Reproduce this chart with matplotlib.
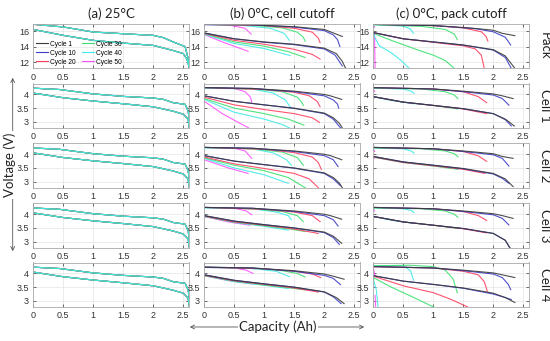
import matplotlib.pyplot as plt
from matplotlib.patches import FancyArrowPatch

W, H = 550, 341

CYCLES = ["Cycle 1", "Cycle 10", "Cycle 20", "Cycle 30", "Cycle 40", "Cycle 50"]
COLORS = ["#3a3a3a", "#3c3cc8", "#ff4060", "#3ce070", "#40e8e8", "#ff50ff"]
COL_TITLES = ["(a) 25°C", "(b) 0°C, cell cutoff", "(c) 0°C, pack cutoff"]
ROW_NAMES = ["Pack", "Cell 1", "Cell 2", "Cell 3", "Cell 4"]
XTICKS = [0, 0.5, 1, 1.5, 2, 2.5]
PACK_YTICKS = [12, 14, 16]
CELL_YTICKS = [3, 3.5, 4]

# (a) 25°C - all cycles lie on top of each other
A_PACK_UP = [(0, 16.86), (0.5, 16.52), (1, 15.87), (1.5, 15.65), (2, 15.44), (2.17, 15.14),
             (2.33, 14.6), (2.53, 14.0), (2.58, 12.5), (2.6, 11.5)]
A_PACK_LO = [(0, 16.2), (0.5, 15.44), (1, 14.8), (1.5, 14.45), (2, 14.15), (2.33, 13.5),
             (2.5, 13.1), (2.56, 12.4), (2.6, 11.3)]
A_CELL_UP = [(0, 4.23), (0.44, 4.18), (1, 4.02), (1.5, 3.93), (2, 3.87), (2.17, 3.82),
             (2.33, 3.7), (2.53, 3.64), (2.58, 3.4), (2.6, 3.1)]
A_CELL_LO = [(0, 4.05), (0.5, 3.88), (1, 3.76), (1.5, 3.66), (2, 3.55), (2.33, 3.39),
             (2.5, 3.28), (2.58, 3.1), (2.6, 2.8)]

# (b) 0°C, cell cutoff  (one list per cycle: 1, 10, 20, 30, 40, 50)
B_PACK_UP = [
    [(0, 16.85), (0.8, 16.8), (1.5, 16.55), (2.0, 16.2), (2.15, 15.75), (2.3, 15.3)],
    [(0, 16.85), (0.8, 16.8), (1.5, 16.5), (2.0, 16.05), (2.15, 15.5), (2.22, 14.9), (2.26, 14.0)],
    [(0, 16.85), (1.0, 16.7), (1.5, 16.35), (1.8, 15.85), (1.9, 15.1), (1.93, 14.5)],
    [(0, 16.85), (0.8, 16.75), (1.3, 16.4), (1.55, 15.85), (1.65, 15.2), (1.68, 14.7)],
    [(0, 16.8), (0.6, 16.75), (1.1, 16.35), (1.33, 15.7), (1.42, 14.8)],
    [(0, 16.8), (0.45, 16.7), (0.68, 16.35), (0.78, 15.6)],
]
B_PACK_LO = [
    [(0, 15.75), (0.5, 15.0), (1, 14.6), (1.5, 14.3), (2.0, 13.8), (2.2, 13.1), (2.3, 12.1), (2.35, 11.3)],
    [(0, 15.75), (0.5, 15.0), (1, 14.55), (1.5, 14.25), (2.0, 13.7), (2.18, 12.9), (2.3, 11.5)],
    [(0, 15.7), (0.5, 14.8), (1, 14.3), (1.5, 13.65), (1.8, 13.0), (1.93, 12.4)],
    [(0, 15.65), (0.5, 14.6), (1, 14.05), (1.4, 13.35), (1.68, 12.6)],
    [(0, 15.6), (0.5, 14.4), (1, 13.75), (1.43, 12.85)],
    [(0, 15.55), (0.3, 14.6), (0.73, 13.4)],
]
B_CELL1_UP = [
    [(0, 4.25), (0.8, 4.22), (1.5, 4.12), (2.0, 4.0), (2.1, 3.95), (2.29, 3.82)],
    [(0, 4.25), (0.8, 4.22), (1.5, 4.1), (2.0, 3.95), (2.15, 3.8), (2.22, 3.65), (2.24, 3.5)],
    [(0, 4.25), (1, 4.18), (1.5, 4.08), (1.75, 3.95), (1.88, 3.75), (1.93, 3.55)],
    [(0, 4.25), (0.8, 4.2), (1.3, 4.1), (1.55, 3.9), (1.63, 3.7), (1.65, 3.6)],
    [(0, 4.23), (0.8, 4.2), (1.15, 4.05), (1.35, 3.8), (1.43, 3.55)],
    [(0, 4.25), (0.5, 4.22), (0.68, 4.1), (0.77, 3.9), (0.79, 3.72)],
]
B_CELL1_LO = [
    [(0, 3.95), (0.5, 3.75), (1, 3.62), (1.5, 3.5), (2, 3.32), (2.15, 3.15), (2.25, 2.95), (2.3, 2.78)],
    [(0, 3.95), (0.5, 3.75), (1, 3.62), (1.5, 3.49), (2, 3.3), (2.15, 3.1), (2.27, 2.78)],
    [(0, 3.9), (0.5, 3.62), (1, 3.45), (1.5, 3.3), (1.8, 3.15), (1.92, 2.98)],
    [(0, 3.85), (0.5, 3.5), (1, 3.3), (1.4, 3.1), (1.66, 2.88)],
    [(0, 3.82), (0.5, 3.35), (1, 3.1), (1.3, 2.9), (1.42, 2.78)],
    [(0, 3.75), (0.3, 3.3), (0.55, 3.0), (0.74, 2.78)],
]
B_CELL2_UP = [
    [(0, 4.25), (0.8, 4.22), (1.5, 4.12), (2.0, 4.0), (2.1, 3.95), (2.29, 3.8)],
    [(0, 4.25), (0.8, 4.22), (1.5, 4.1), (2.0, 3.95), (2.15, 3.8), (2.23, 3.55)],
    [(0, 4.25), (1, 4.18), (1.5, 4.06), (1.8, 3.9), (1.9, 3.7), (1.95, 3.45)],
    [(0, 4.25), (0.8, 4.2), (1.3, 4.08), (1.55, 3.88), (1.65, 3.6)],
    [(0, 4.23), (0.8, 4.2), (1.15, 4.05), (1.37, 3.8), (1.45, 3.6)],
    [(0, 4.25), (0.5, 4.22), (0.68, 4.12), (0.79, 3.85)],
]
B_CELL2_LO = [
    [(0, 3.95), (0.5, 3.75), (1, 3.62), (1.5, 3.5), (2, 3.32), (2.15, 3.15), (2.25, 2.95), (2.3, 2.78)],
    [(0, 3.95), (0.5, 3.75), (1, 3.62), (1.5, 3.49), (2, 3.3), (2.15, 3.1), (2.27, 2.85)],
    [(0, 3.9), (0.5, 3.65), (1, 3.48), (1.5, 3.3), (1.75, 3.1), (1.9, 2.78)],
    [(0, 3.87), (0.5, 3.6), (1, 3.4), (1.4, 3.15), (1.68, 2.78)],
    [(0, 3.85), (0.5, 3.5), (1, 3.25), (1.4, 2.94)],
    [(0, 3.8), (0.4, 3.5), (0.73, 3.3)],
]
B_CELL3_UP = [
    [(0, 4.25), (0.8, 4.22), (1.5, 4.12), (2.0, 4.0), (2.1, 3.95), (2.29, 3.82)],
    [(0, 4.25), (0.8, 4.22), (1.5, 4.1), (2.0, 3.95), (2.15, 3.8), (2.23, 3.57)],
    [(0, 4.25), (1, 4.18), (1.5, 4.08), (1.8, 3.95), (1.93, 3.73)],
    [(0, 4.25), (0.8, 4.2), (1.3, 4.1), (1.55, 3.95), (1.65, 3.73)],
    [(0, 4.23), (0.8, 4.2), (1.2, 4.08), (1.4, 3.95), (1.45, 3.8)],
    [(0, 4.25), (0.5, 4.22), (0.7, 4.12), (0.79, 3.98)],
]
B_CELL3_LO = [
    [(0, 3.95), (0.5, 3.75), (1, 3.62), (1.5, 3.5), (2, 3.35), (2.15, 3.2), (2.29, 2.94)],
    [(0, 3.95), (0.5, 3.75), (1, 3.62), (1.5, 3.5), (2, 3.33), (2.15, 3.15), (2.25, 2.9)],
    [(0, 3.93), (0.5, 3.72), (1, 3.6), (1.5, 3.46), (1.9, 3.3)],
    [(0, 3.92), (0.5, 3.72), (1, 3.58), (1.4, 3.47), (1.68, 3.37)],
    [(0, 3.92), (0.5, 3.7), (1, 3.56), (1.4, 3.42)],
    [(0, 3.92), (0.4, 3.72), (0.76, 3.6)],
]
B_CELL4_UP = [
    [(0, 4.23), (0.8, 4.2), (1.5, 4.1), (2.0, 3.98), (2.15, 3.9), (2.33, 3.79)],
    [(0, 4.23), (0.8, 4.2), (1.5, 4.08), (2.0, 3.93), (2.15, 3.82), (2.27, 3.59)],
    [(0, 4.23), (1, 4.17), (1.5, 4.08), (1.8, 3.98), (1.94, 3.85)],
    [(0, 4.23), (0.8, 4.2), (1.3, 4.1), (1.55, 4.0), (1.68, 3.87)],
    [(0, 4.22), (0.8, 4.18), (1.2, 4.08), (1.42, 3.88)],
    [(0, 4.22), (0.5, 4.2), (0.7, 4.12), (0.81, 4.0)],
]
B_CELL4_LO = [
    [(0, 3.95), (0.5, 3.75), (1, 3.62), (1.5, 3.5), (2, 3.33), (2.2, 3.12), (2.33, 2.9)],
    [(0, 3.95), (0.5, 3.75), (1, 3.62), (1.5, 3.5), (2, 3.32), (2.15, 3.15), (2.28, 2.9)],
    [(0, 3.93), (0.5, 3.73), (1, 3.6), (1.5, 3.47), (1.9, 3.32)],
    [(0, 3.92), (0.5, 3.72), (1, 3.58), (1.4, 3.48), (1.68, 3.4)],
    [(0, 3.92), (0.5, 3.7), (1, 3.57), (1.4, 3.45)],
    [(0, 3.92), (0.4, 3.74), (0.8, 3.62)],
]

# (c) 0°C, pack cutoff
C_PACK_UP = [
    [(0, 16.85), (1, 16.7), (1.6, 16.4), (2.0, 16.1), (2.15, 15.7), (2.36, 15.4)],
    [(0, 16.85), (1, 16.7), (1.7, 16.3), (2.0, 15.9), (2.2, 15.2), (2.29, 14.2)],
    [(0, 16.85), (1, 16.7), (1.5, 16.4), (1.8, 15.9), (1.88, 15.3), (1.91, 14.7)],
    [(0, 16.8), (0.8, 16.6), (1.2, 16.2), (1.35, 15.6), (1.4, 14.9)],
    [(0, 16.8), (0.5, 16.65), (0.62, 16.25), (0.67, 15.7)],
    [(0, 16.8), (0.02, 16.5)],
]
C_PACK_LO = [
    [(0, 15.8), (0.5, 15.0), (1, 14.6), (1.5, 14.2), (2, 13.6), (2.2, 12.8), (2.3, 11.8), (2.36, 11.2)],
    [(0, 15.8), (0.5, 15.0), (1, 14.6), (1.5, 14.2), (2, 13.55), (2.2, 12.6), (2.3, 11.2)],
    [(0, 15.8), (0.5, 15.0), (1, 14.55), (1.5, 14.1), (1.7, 13.7), (1.8, 12.9), (1.85, 11.2)],
    [(0, 15.7), (0.3, 14.8), (0.73, 13.6), (1.0, 12.9), (1.2, 12.2), (1.35, 11.2)],
    [(0, 15.6), (0.05, 14.8), (0.1, 14.1), (0.3, 13.2), (0.45, 12.3), (0.6, 11.2)],
    [(0.02, 15.8), (0.03, 11.2)],
]
C_CELL1_UP = [
    [(0, 4.25), (1, 4.2), (1.5, 4.12), (2.0, 4.02), (2.15, 3.95), (2.33, 3.85)],
    [(0, 4.25), (1, 4.2), (1.5, 4.1), (2.0, 3.98), (2.15, 3.85), (2.26, 3.61)],
    [(0, 4.25), (1, 4.2), (1.5, 4.1), (1.75, 3.92), (1.89, 3.7)],
    [(0, 4.23), (0.8, 4.2), (1.2, 4.1), (1.35, 3.98), (1.41, 3.85)],
    [(0, 4.23), (0.5, 4.2), (0.63, 4.12), (0.68, 4.04)],
    [(0, 4.22), (0.02, 4.1)],
]
C_CELL1_LO = [
    [(0, 3.92), (0.5, 3.72), (1, 3.6), (1.5, 3.48), (2, 3.3), (2.2, 3.1), (2.35, 2.85)],
    [(0, 3.92), (0.5, 3.72), (1, 3.6), (1.5, 3.48), (2, 3.3), (2.2, 3.08), (2.3, 2.85)],
    [(0, 3.92), (0.5, 3.72), (1, 3.6), (1.5, 3.47), (1.89, 3.3)],
    [(0, 3.92), (0.5, 3.72), (1, 3.6), (1.41, 3.47)],
    [(0, 3.92), (0.3, 3.78), (0.68, 3.66)],
    [(0, 3.92), (0.02, 3.88)],
]
C_CELL2_UP = [
    [(0, 4.25), (1, 4.2), (1.5, 4.12), (2.0, 4.02), (2.15, 3.92), (2.33, 3.85)],
    [(0, 4.25), (1, 4.2), (1.5, 4.1), (2.0, 3.98), (2.15, 3.85), (2.26, 3.57)],
    [(0, 4.25), (1, 4.2), (1.5, 4.1), (1.75, 3.94), (1.89, 3.74)],
    [(0, 4.23), (0.8, 4.2), (1.2, 4.12), (1.35, 4.02), (1.41, 3.91)],
    [(0, 4.23), (0.5, 4.2), (0.63, 4.12), (0.68, 4.04)],
    [(0, 4.22), (0.02, 4.1)],
]
C_CELL2_LO = [
    [(0, 3.92), (0.5, 3.72), (1, 3.6), (1.5, 3.48), (2, 3.3), (2.2, 3.1), (2.33, 2.82)],
    [(0, 3.92), (0.5, 3.72), (1, 3.6), (1.5, 3.47), (2, 3.28), (2.15, 3.12), (2.26, 2.94)],
    [(0, 3.9), (0.5, 3.7), (1, 3.58), (1.5, 3.45), (1.86, 3.3)],
    [(0, 3.9), (0.5, 3.7), (1, 3.57), (1.41, 3.45)],
    [(0, 3.9), (0.3, 3.78), (0.68, 3.66)],
    [(0, 3.9), (0.02, 3.86)],
]
C_CELL3_UP = [
    [(0, 4.25), (1, 4.2), (1.5, 4.12), (2.0, 4.02), (2.15, 3.95), (2.33, 3.85)],
    [(0, 4.25), (1, 4.2), (1.5, 4.1), (2.0, 3.98), (2.15, 3.85), (2.26, 3.61)],
    [(0, 4.25), (1, 4.2), (1.5, 4.1), (1.75, 3.95), (1.89, 3.77)],
    [(0, 4.23), (0.8, 4.2), (1.2, 4.12), (1.35, 4.0), (1.41, 3.89)],
    [(0, 4.23), (0.5, 4.2), (0.63, 4.14), (0.68, 4.06)],
    [(0, 4.22), (0.02, 4.12)],
]
C_CELL3_LO = [
    [(0, 3.92), (0.5, 3.72), (1, 3.6), (1.5, 3.48), (2, 3.3), (2.2, 3.05), (2.3, 2.7)],
    [(0, 3.92), (0.5, 3.72), (1, 3.6), (1.5, 3.48), (2, 3.3), (2.2, 3.05), (2.28, 2.75)],
    [(0, 3.92), (0.5, 3.72), (1, 3.6), (1.5, 3.47), (1.89, 3.32)],
    [(0, 3.92), (0.5, 3.72), (1, 3.6), (1.41, 3.48)],
    [(0, 3.92), (0.3, 3.78), (0.68, 3.67)],
    [(0, 3.92), (0.02, 3.88)],
]
C_CELL4_UP = [
    [(0, 4.25), (1, 4.2), (1.5, 4.12), (2.0, 4.02), (2.15, 3.95), (2.36, 3.85)],
    [(0, 4.25), (1, 4.2), (1.5, 4.1), (2.0, 3.98), (2.15, 3.85), (2.25, 3.6), (2.29, 3.41)],
    [(0, 4.25), (1, 4.2), (1.5, 4.08), (1.75, 3.95), (1.85, 3.7), (1.9, 3.35)],
    [(0, 4.28), (0.6, 4.3), (1.0, 4.25), (1.2, 4.12), (1.33, 3.8), (1.4, 3.3)],
    [(0, 4.27), (0.5, 4.28), (0.62, 4.1), (0.67, 3.76)],
    [(0, 4.22), (0.03, 3.9)],
]
C_CELL4_LO = [
    [(0, 3.92), (0.5, 3.72), (1, 3.6), (1.5, 3.47), (2, 3.28), (2.2, 3.12), (2.36, 2.94)],
    [(0, 3.92), (0.5, 3.72), (1, 3.6), (1.5, 3.46), (2, 3.25), (2.2, 3.12), (2.3, 3.05)],
    [(0, 3.9), (0.5, 3.55), (1, 3.3), (1.3, 3.05), (1.57, 2.78)],
    [(0, 3.85), (0.3, 3.5), (0.6, 3.2), (1.0, 2.78)],
    [(0, 3.8), (0.05, 3.4), (0.08, 2.78)],
    [(0.03, 3.2), (0.04, 2.78)],
]

PANELS = [
    [([A_PACK_UP] * 5, [A_PACK_LO] * 5), (B_PACK_UP, B_PACK_LO), (C_PACK_UP, C_PACK_LO)],
    [([A_CELL_UP] * 5, [A_CELL_LO] * 5), (B_CELL1_UP, B_CELL1_LO), (C_CELL1_UP, C_CELL1_LO)],
    [([A_CELL_UP] * 5, [A_CELL_LO] * 5), (B_CELL2_UP, B_CELL2_LO), (C_CELL2_UP, C_CELL2_LO)],
    [([A_CELL_UP] * 5, [A_CELL_LO] * 5), (B_CELL3_UP, B_CELL3_LO), (C_CELL3_UP, C_CELL3_LO)],
    [([A_CELL_UP] * 5, [A_CELL_LO] * 5), (B_CELL4_UP, B_CELL4_LO), (C_CELL4_UP, C_CELL4_LO)],
]

fig = plt.figure(figsize=(W / 100, H / 100), dpi=100)

col_left = [33.3, 204.3, 373.3]
row_top = [24, 83.5, 143.3, 203.3, 262.5]
ax_w, ax_h = 156, 44.4

for r in range(5):
    for c in range(3):
        ax = fig.add_axes([col_left[c] / W, 1 - (row_top[r] + ax_h) / H, ax_w / W, ax_h / H])
        ups, los = PANELS[r][c]
        n = len(ups)
        # at 25°C the cycles coincide, the later (cyan) one is the visible one;
        # at 0°C cycle 1 sits on top
        order = range(n) if c == 0 else reversed(range(n))
        for i in order:
            for curve in (ups[i], los[i]):
                xs = [p[0] for p in curve]
                ys = [p[1] for p in curve]
                ax.plot(xs, ys, color=COLORS[i], lw=0.8, alpha=0.9)
        ax.set_xlim(0, 2.6)
        if r == 0:
            ax.set_ylim(11.2, 16.9)
            ax.set_yticks(PACK_YTICKS)
        else:
            ax.set_ylim(2.78, 4.4)
            ax.set_yticks(CELL_YTICKS)
            ax.set_yticklabels(["3", "3.5", "4"])
        ax.set_xticks(XTICKS)
        ax.set_xticklabels(["0", "0.5", "1", "1.5", "2", "2.5"])
        ax.grid(True, color="#e4e4e4", lw=0.5)
        ax.set_axisbelow(True)
        ax.tick_params(labelsize=6.5, colors="#333333", length=2, width=0.5, direction="in",
                       pad=3, top=True, right=True)
        for lab in ax.get_xticklabels() + ax.get_yticklabels():
            lab.set_fontfamily("Liberation Sans")
        for s in ax.spines.values():
            s.set_color("#a8a8a8")
            s.set_linewidth(0.6)
        if r == 0:
            ax.set_title(COL_TITLES[c], fontsize=9.5, family="Lato", color="#222222", pad=4)
        if c == 2:
            ax.text(1.06, 0.5, ROW_NAMES[r], transform=ax.transAxes, rotation=-90,
                    ha="left", va="center", fontsize=9.5, family="Lato", color="#222222")
        if r == 0 and c == 0:
            handles = [plt.Line2D([], [], color=COLORS[i], lw=0.8) for i in range(6)]
            ax.legend(handles, CYCLES, loc="lower left", ncol=2, frameon=False,
                      handlelength=1.8, handletextpad=0.3, columnspacing=1.0,
                      labelspacing=0.3, borderpad=0.1, borderaxespad=0.3,
                      prop={"family": "Liberation Sans", "size": 4.8})

# axis captions with double arrows
fig.add_artist(FancyArrowPatch((12.7 / W, 1 - 254 / H), (12.7 / W, 1 - 75 / H),
                               transform=fig.transFigure, arrowstyle="<->", mutation_scale=7,
                               color="#555555", lw=0.6))
fig.text(10 / W, 1 - 165 / H, "Voltage (V)", rotation=90, ha="center", va="center",
         fontsize=9.5, family="Lato", color="#222222",
         bbox=dict(facecolor="white", edgecolor="none", pad=1))
fig.add_artist(FancyArrowPatch((187 / W, 1 - 327 / H), (367 / W, 1 - 327 / H),
                               transform=fig.transFigure, arrowstyle="<->", mutation_scale=7,
                               color="#555555", lw=0.6))
fig.text(278 / W, 1 - 327 / H, "Capacity (Ah)", ha="center", va="center",
         fontsize=9.5, family="Lato", color="#222222",
         bbox=dict(facecolor="white", edgecolor="none", pad=1))

fig.savefig("out.png", dpi=100)
